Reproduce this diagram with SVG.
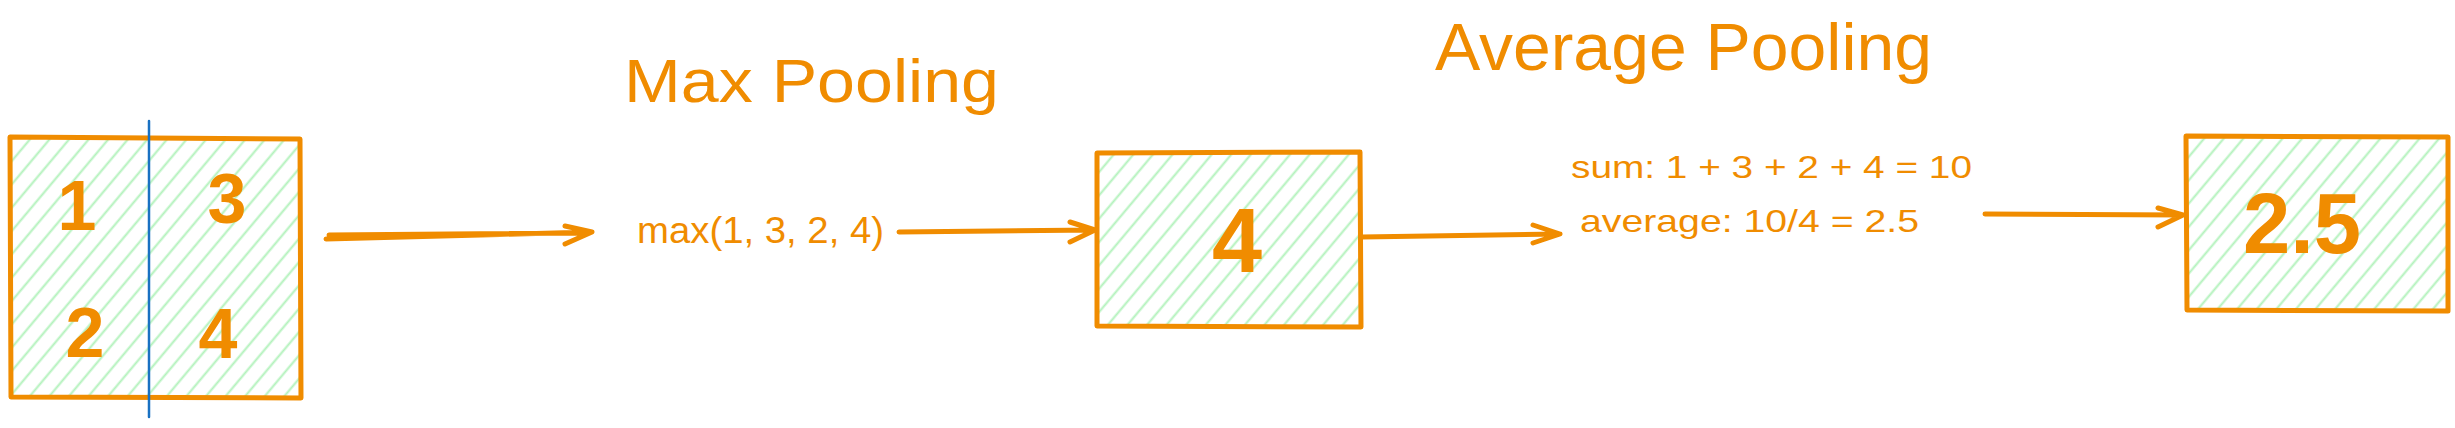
<svg xmlns="http://www.w3.org/2000/svg" width="2455" height="428" viewBox="0 0 2455 428">
  <style>
    .box { fill: url(#hatch); stroke: #f08c00; stroke-width: 5; stroke-linejoin: round; stroke-linecap: round; }
    .edge { fill: none; stroke: #f08c00; stroke-width: 5; stroke-linecap: round; stroke-linejoin: round; }
    .t { fill: #f08c00; font-family: "Liberation Sans", Arial, sans-serif; }
    .big { font-size: 70px; text-anchor: middle; font-weight: bold; }
  </style>
  <defs>
    <pattern id="hatch" patternUnits="userSpaceOnUse" width="15" height="15" patternTransform="rotate(40)">
      <rect width="15" height="15" fill="#ffffff"/>
      <line x1="7.5" y1="-1" x2="7.5" y2="16" stroke="#b2f2bb" stroke-width="2"/>
    </pattern>
  </defs>
  <rect width="2455" height="428" fill="#ffffff"/>

  <g id="title-max">
    <text class="t" x="624" y="102" font-size="62" textLength="375" lengthAdjust="spacingAndGlyphs">Max Pooling</text>
  </g>
  <g id="title-average">
    <text class="t" x="1435" y="70" font-size="67" textLength="497" lengthAdjust="spacingAndGlyphs">Average Pooling</text>
  </g>

  <g id="input-grid">
    <path class="box" d="M10 137 L300 139 L301 398 L11 397 Z"/>
    <line x1="149" y1="121" x2="149" y2="417" stroke="#1971c2" stroke-width="2.5" stroke-linecap="round"/>
    <text class="t big" x="77" y="230">1</text>
    <text class="t big" x="227" y="223">3</text>
    <text class="t big" x="85" y="357">2</text>
    <text class="t big" x="218" y="358">4</text>
  </g>

  <g id="max-label">
    <text class="t" x="637" y="243" font-size="36" textLength="247" lengthAdjust="spacingAndGlyphs">max(1, 3, 2, 4)</text>
  </g>

  <g id="max-result">
    <path class="box" d="M1097 153 L1360 152 L1361 327 L1097 326 Z"/>
    <text class="t" x="1237" y="272" font-size="90" font-weight="bold" text-anchor="middle">4</text>
  </g>

  <g id="avg-label">
    <text class="t" x="1571" y="178" font-size="31" textLength="401" lengthAdjust="spacingAndGlyphs">sum: 1 + 3 + 2 + 4 = 10</text>
    <text class="t" x="1580" y="232" font-size="32" textLength="339" lengthAdjust="spacingAndGlyphs">average: 10/4 = 2.5</text>
  </g>

  <g id="avg-result">
    <path class="box" d="M2186 136 L2448 137 L2448 311 L2187 310 Z"/>
    <text class="t" x="2302" y="253" font-size="85" font-weight="bold" text-anchor="middle">2.5</text>
  </g>

  <g id="connectors">
    <path class="edge" d="M326 239 L592 232 M329 235 L588 233 M565 226 L592 232 L565 244"/>
    <path class="edge" d="M899 232 L1095 230 M1070 222 L1095 230 L1070 242"/>
    <path class="edge" d="M1362 237 L1560 234 M1533 225 L1560 234 L1533 243"/>
    <path class="edge" d="M1985 214 L2183 215 M2158 208 L2183 215 L2158 227"/>
  </g>
</svg>
